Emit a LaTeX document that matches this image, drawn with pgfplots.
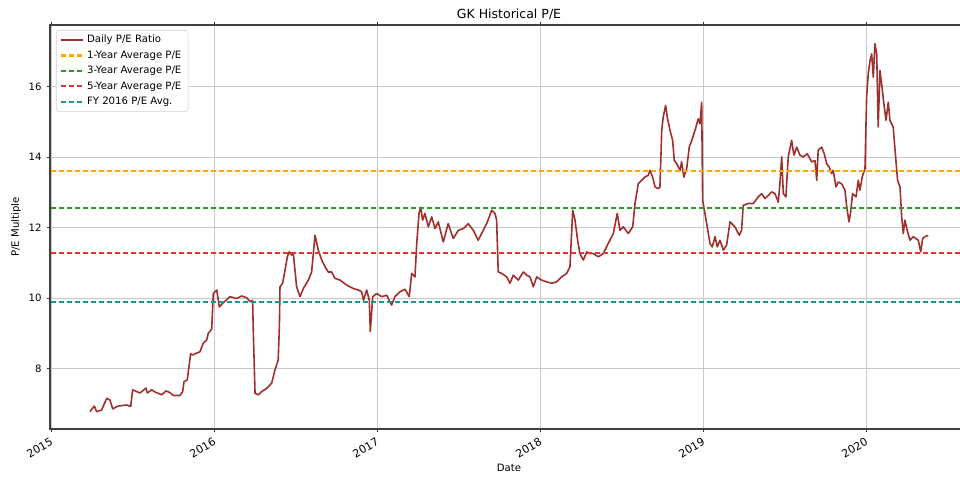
\documentclass[border=0pt]{standalone}
\usepackage{fontspec}
\setmainfont{DejaVu Sans}
\usepackage{pgfplots}
\pgfplotsset{compat=1.18}

\definecolor{pebrown}{RGB}{160,48,46}
\definecolor{avgorange}{RGB}{255,165,0}
\definecolor{avggreen}{RGB}{42,154,42}
\definecolor{avgred}{RGB}{238,48,48}
\definecolor{avgteal}{RGB}{26,152,152}
\definecolor{gridgray}{RGB}{200,200,200}

\newcommand{\lab}{\fontsize{7.6}{9}\selectfont}

\begin{document}
\begin{tikzpicture}
\useasboundingbox (-37.5pt,-36pt) rectangle (682.5pt,321.75pt);
\begin{axis}[
    at={(0,0)}, anchor=south west,
    scale only axis,
    width=688.5pt, height=303pt,
    xmin=2014.994, xmax=2020.626,
    ymin=6.29, ymax=17.74,
    xtick={2015,2016,2017,2018,2019,2020},
    xticklabels={2015,2016,2017,2018,2019,2020},
    ytick={8,10,12,14,16},
    /pgf/number format/assume math mode=true,
    tick align=outside,
    major tick length=2.6pt,
    tick style={black!80, line width=0.6pt},
    axis line style={black!75, line width=0.8pt},
    grid=major,
    major grid style={gridgray, line width=0.6pt},
    ticklabel style={font=\lab},
    yticklabel style={anchor=east, inner sep=0pt, xshift=-3.5pt},
    xticklabel style={font=\fontsize{8.2}{9.5}\selectfont, rotate=30, anchor=north east, inner sep=0pt, yshift=-2.5pt, xshift=-2.5pt},
    title={GK Historical P/E},
    title style={font=\fontsize{9.4}{11}\selectfont, at={(0.5,1)}, anchor=base, yshift=-1.1pt},
    xlabel={Date},
    xlabel style={font=\lab, at={(axis description cs:0.5,-0.0965)}, anchor=center},
    ylabel={P/E Multiple},
    ylabel style={font=\lab, at={(axis description cs:-0.037,0.5)}, anchor=center, rotate=0},
    legend cell align=left,
    legend image code/.code={\draw[#1] (0pt,0pt) -- (16.5pt,0pt);},
    legend style={
        at={(0,1)}, anchor=north west, xshift=4.5pt, yshift=-3.75pt,
        draw=black!18, rounded corners=2pt, fill=white,
        font=\lab,
        inner xsep=2.5pt, inner ysep=1.5pt,
        nodes={text height=6pt, text depth=2pt, inner ysep=1.8pt, inner xsep=2.5pt},
    },
]
\addplot[pebrown, line width=1.2pt, line join=round] coordinates {
(2015.239,6.78) (2015.266,6.94) (2015.280,6.78) (2015.311,6.83) (2015.342,7.16)
(2015.362,7.11) (2015.379,6.86) (2015.411,6.94) (2015.464,6.97) (2015.489,6.93)
(2015.501,7.40) (2015.526,7.35) (2015.546,7.31) (2015.583,7.45) (2015.591,7.31)
(2015.618,7.40) (2015.638,7.34) (2015.679,7.26) (2015.706,7.37) (2015.730,7.32)
(2015.750,7.24) (2015.791,7.24) (2015.808,7.35) (2015.816,7.63) (2015.836,7.68)
(2015.857,8.42) (2015.869,8.39) (2015.914,8.48) (2015.934,8.72) (2015.955,8.81)
(2015.965,9.00) (2015.986,9.12) (2015.996,10.13) (2016.017,10.23) (2016.033,9.75)
(2016.053,9.85) (2016.098,10.04) (2016.139,9.99) (2016.170,10.06) (2016.201,10.01)
(2016.221,9.90) (2016.237,9.94) (2016.241,9.09) (2016.252,7.30) (2016.272,7.26)
(2016.293,7.35) (2016.323,7.44) (2016.354,7.59) (2016.374,7.96) (2016.394,8.25)
(2016.401,9.14) (2016.405,10.32) (2016.421,10.42) (2016.436,10.79) (2016.450,11.17)
(2016.462,11.31) (2016.477,11.22) (2016.487,11.26) (2016.507,10.32) (2016.528,10.04)
(2016.548,10.27) (2016.579,10.51) (2016.599,10.74) (2016.620,11.78) (2016.640,11.36)
(2016.661,11.08) (2016.681,10.89) (2016.701,10.74) (2016.722,10.74) (2016.742,10.56)
(2016.773,10.51) (2016.814,10.37) (2016.855,10.27) (2016.885,10.23) (2016.906,10.18)
(2016.917,9.94) (2016.937,10.23) (2016.953,9.94) (2016.959,9.05) (2016.974,10.04)
(2016.998,10.13) (2017.029,10.04) (2017.060,10.08) (2017.090,9.80) (2017.110,10.04)
(2017.141,10.18) (2017.172,10.25) (2017.198,10.04) (2017.213,10.70) (2017.233,10.60)
(2017.244,11.55) (2017.258,12.40) (2017.268,12.58) (2017.280,12.21) (2017.294,12.40)
(2017.315,12.02) (2017.336,12.30) (2017.356,11.97) (2017.376,12.16) (2017.407,11.59)
(2017.437,12.11) (2017.468,11.69) (2017.499,11.92) (2017.530,11.97) (2017.560,12.11)
(2017.591,11.92) (2017.621,11.64) (2017.642,11.83) (2017.673,12.11) (2017.704,12.49)
(2017.724,12.40) (2017.734,12.21) (2017.744,10.74) (2017.765,10.70) (2017.796,10.60)
(2017.816,10.42) (2017.836,10.65) (2017.867,10.51) (2017.898,10.74) (2017.918,10.65)
(2017.939,10.60) (2017.959,10.32) (2017.980,10.60) (2018.010,10.51) (2018.041,10.46)
(2018.072,10.42) (2018.102,10.46) (2018.133,10.60) (2018.164,10.70) (2018.184,10.89)
(2018.201,12.49) (2018.215,12.21) (2018.231,11.64) (2018.245,11.26) (2018.266,11.08)
(2018.287,11.31) (2018.307,11.26) (2018.327,11.26) (2018.358,11.17) (2018.388,11.26)
(2018.419,11.55) (2018.450,11.83) (2018.474,12.40) (2018.491,11.92) (2018.511,12.02)
(2018.542,11.83) (2018.569,12.02) (2018.583,12.68) (2018.603,13.24) (2018.624,13.34)
(2018.644,13.43) (2018.664,13.48) (2018.675,13.62) (2018.691,13.43) (2018.706,13.15)
(2018.726,13.10) (2018.736,13.15) (2018.747,14.75) (2018.756,15.13) (2018.771,15.46)
(2018.781,15.13) (2018.798,14.75) (2018.814,14.47) (2018.824,13.90) (2018.839,13.81)
(2018.859,13.62) (2018.869,13.86) (2018.883,13.43) (2018.900,13.67) (2018.916,14.28)
(2018.931,14.47) (2018.951,14.75) (2018.971,15.08) (2018.982,14.94) (2018.992,15.55)
(2018.998,12.77) (2019.012,12.40) (2019.026,12.02) (2019.043,11.55) (2019.057,11.45)
(2019.074,11.74) (2019.088,11.45) (2019.104,11.64) (2019.125,11.36) (2019.145,11.50)
(2019.166,12.16) (2019.196,12.02) (2019.223,11.78) (2019.237,11.92) (2019.247,12.63)
(2019.278,12.68) (2019.309,12.68) (2019.339,12.87) (2019.360,12.96) (2019.380,12.82)
(2019.401,12.91) (2019.421,13.01) (2019.442,12.96) (2019.462,12.72) (2019.472,13.24)
(2019.483,14.00) (2019.493,12.96) (2019.509,12.87) (2019.523,14.00) (2019.544,14.47)
(2019.558,14.05) (2019.575,14.28) (2019.595,14.05) (2019.615,14.00) (2019.640,14.09)
(2019.667,13.86) (2019.687,13.90) (2019.698,13.34) (2019.707,14.19) (2019.728,14.28)
(2019.744,14.09) (2019.759,13.81) (2019.775,13.71) (2019.789,13.53) (2019.799,13.62)
(2019.816,13.15) (2019.830,13.29) (2019.851,13.24) (2019.871,13.06) (2019.882,12.58)
(2019.896,12.16) (2019.906,12.44) (2019.918,12.96) (2019.939,12.87) (2019.953,13.34)
(2019.963,13.06) (2019.977,13.43) (2019.994,13.67) (2020.004,15.69) (2020.014,16.36)
(2020.025,16.73) (2020.035,16.92) (2020.045,16.26) (2020.055,17.21) (2020.066,16.92)
(2020.075,14.85) (2020.086,16.45) (2020.096,16.07) (2020.110,15.51) (2020.123,15.04)
(2020.137,15.55) (2020.147,15.04) (2020.167,14.85) (2020.182,14.00) (2020.194,13.34)
(2020.209,13.15) (2020.219,12.30) (2020.229,11.83) (2020.239,12.21) (2020.253,11.92)
(2020.270,11.64) (2020.290,11.74) (2020.321,11.64) (2020.336,11.31) (2020.348,11.69)
(2020.362,11.74) (2020.382,11.78)
};
\addlegendentry{Daily P/E Ratio}
\addplot[avgorange, line width=1.6pt, dash pattern=on 4pt off 2pt] coordinates {(2014.9,13.60) (2020.7,13.60)};
\addlegendentry{1-Year Average P/E}
\addplot[avggreen, line width=1.6pt, dash pattern=on 4pt off 2pt] coordinates {(2014.9,12.55) (2020.7,12.55)};
\addlegendentry{3-Year Average P/E}
\addplot[avgred, line width=1.6pt, dash pattern=on 4pt off 2pt] coordinates {(2014.9,11.28) (2020.7,11.28)};
\addlegendentry{5-Year Average P/E}
\addplot[avgteal, line width=1.6pt, dash pattern=on 4pt off 2pt] coordinates {(2014.9,9.885) (2020.7,9.885)};
\addlegendentry{FY 2016 P/E Avg.}
\end{axis}
\end{tikzpicture}
\end{document}
